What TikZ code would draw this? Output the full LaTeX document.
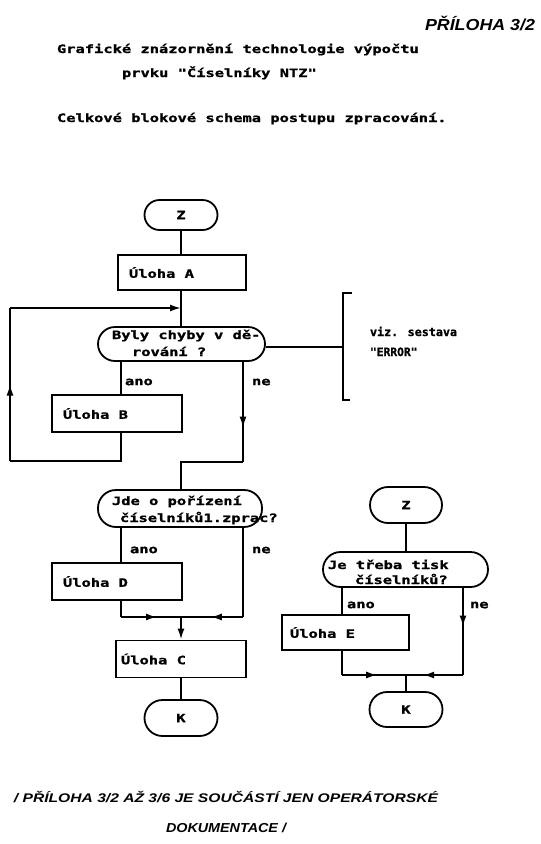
\documentclass[tikz,border=0pt]{standalone}
\usepackage{fontspec}
\usepackage{graphicx}
\usetikzlibrary{arrows.meta,decorations.markings}
\newfontfamily\dmfont{DejaVu Sans Mono}[BoldFont=* Bold, BoldFeatures={FakeBold=1.2}]
\newfontfamily\hwfont{Liberation Sans}[BoldFeatures={FakeBold=1.5}]
\newcommand{\dm}[1]{\scalebox{1.34}[1]{\fontsize{11.5}{13}\selectfont\dmfont\bfseries #1}}
\newcommand{\dms}[2]{\scalebox{#1}[1]{\fontsize{11.5}{13}\selectfont\dmfont\bfseries #2}}
\newcommand{\hw}[3]{\resizebox{#1}{\height}{\fontsize{#2}{#2}\selectfont\hwfont\bfseries\itshape #3}}
\tikzset{
  line/.style={line width=1.8pt, line join=miter},
  tipp/.style={-{Latex[length=11pt,width=7pt]}},
  term/.style={draw, line width=1.8pt, rounded corners=#1, inner sep=0pt},
  boxx/.style={draw, line width=1.8pt, inner sep=0pt},
  txt/.style={inner sep=0pt, outer sep=0pt},
  midarrow/.style={postaction={decorate}, decoration={markings,
     mark=at position #1 with {\arrow{Latex[length=11pt,width=7pt]}}}}
}
\begin{document}
\begin{tikzpicture}[x=1pt,y=-1pt]
\useasboundingbox[fill=white] (0,0) rectangle (541,844);

% header
\node[txt, anchor=base west] (hdr) at (425,30) {\hw{110pt}{16}{PŘÍLOHA 3/2}};
\node[txt, anchor=base west] (t1) at (57,53) {\dm{Grafické znázornění technologie výpočtu}};
\node[txt, anchor=base west] (t2) at (122,77) {\dm{prvku "Číselníky NTZ"}};
\node[txt, anchor=base west] (t3) at (57,122) {\dm{Celkové blokové schema postupu zpracování.}};

% left flowchart
\node[term=15pt, minimum width=73pt, minimum height=30pt] (z1) at (181,215) {\dm{Z}};
\node[boxx, minimum width=128pt, minimum height=35pt] (a) at (182,272.5) {};
\node[txt, anchor=west] (ta) at (129,272.5) {\dm{Úloha A}};
\node[term=17pt, minimum width=167pt, minimum height=34pt] (d1) at (181.5,344) {};
\node[txt, anchor=base west] (td1a) at (112,339) {\dm{Byly chyby v dě-}};
\node[txt, anchor=base west] (td1b) at (132,356) {\dm{rování ?}};
\node[boxx, minimum width=130pt, minimum height=37pt] (b) at (117,413.5) {};
\node[txt, anchor=west] (tb) at (63,413.5) {\dm{Úloha B}};
\node[term=18pt, minimum width=164pt, minimum height=37pt] (d2) at (180,508.5) {};
\node[txt, anchor=base west] (td2a) at (112,505) {\dm{Jde o pořízení}};
\node[txt, anchor=base west] (td2b) at (120,522) {\dm{číselníků1.zprac?}};
\node[boxx, minimum width=130pt, minimum height=37pt] (d) at (117,581.5) {};
\node[txt, anchor=west] (td) at (63,581.5) {\dm{Úloha D}};
\node[boxx, minimum width=130pt, minimum height=37pt] (c) at (181,659) {};
\node[txt, anchor=west] (tc) at (121,659) {\dm{Úloha C}};
\node[term=18pt, minimum width=73pt, minimum height=36pt] (k1) at (181,718) {\dm{K}};

% labels
\node[txt, anchor=west] (l1a) at (125,382) {\dm{ano}};
\node[txt, anchor=west] (l1n) at (252,382) {\dm{ne}};
\node[txt, anchor=west] (l2a) at (130,550) {\dm{ano}};
\node[txt, anchor=west] (l2n) at (252,550) {\dm{ne}};

% error bracket
\node[txt, anchor=base west] (e1) at (370,336) {\dms{1.02}{viz. sestava}};
\node[txt, anchor=base west] (e2) at (370,356) {\dms{0.98}{"ERROR"}};
\coordinate (br) at (343,347);
\draw[line] (352,293) -- (343,293) -- (343,400) -- (350,400);
\draw[line] (br -| d1.east) -- (br);

% connectors left
\draw[line] (z1.south) -- (z1.south |- a.north);
\draw[line] (181,290) -- (181,327);
\coordinate (l1) at (121,461);
\coordinate (l2) at (10,461);
\coordinate (l3) at (10,308);
\coordinate (lp) at (181,308);
\draw[line] ([xshift=4pt]d1.south -| b.north) -- ([xshift=4pt]b.north);
\draw[line] ([xshift=4pt]b.south) -- (l1) -- (l2);
\draw[line, midarrow=0.5] (l2) -- (l3);
\draw[line, tipp] (l3) -- (lp);
\coordinate (m1) at (243,462);
\coordinate (m2) at (181,462);
\draw[line, midarrow=0.66] (243,361) -- (m1);
\draw[line] (m1) -- (m2) -- (m2 |- d2.north);

\coordinate (j1) at (121,617);
\coordinate (j2) at (243,617);
\coordinate (jc) at (181,617);
\draw[line] ([xshift=4pt]d2.south -| d.north) -- ([xshift=4pt]d.north);
\draw[line] ([xshift=4pt]d.south) -- (j1);
\draw[line, midarrow=0.6] (j1) -- (jc);
\draw[line] (243,527) -- (j2);
\draw[line, midarrow=0.52] (j2) -- (jc);
\draw[line, tipp] (jc) -- (c.north);
\draw[line] (c.south) -- (k1.north);

% right flowchart
\node[term=18pt, minimum width=72pt, minimum height=36pt] (z2) at (406,505) {\dm{Z}};
\node[term=17.5pt, minimum width=165pt, minimum height=35pt] (d3) at (405.5,569.5) {};
\node[txt, anchor=base west] (td3a) at (328,569) {\dm{Je třeba tisk}};
\node[txt, anchor=base west] (td3b) at (355,584) {\dm{číselníků?}};
\node[boxx, minimum width=127pt, minimum height=35pt] (e) at (345.5,632.5) {};
\node[txt, anchor=west] (te) at (290,632.5) {\dm{Úloha E}};
\node[term=17.5pt, minimum width=73pt, minimum height=35pt] (k2) at (406,709.5) {\dm{K}};
\node[txt, anchor=west] (l3a) at (347,605) {\dm{ano}};
\node[txt, anchor=west] (l3n) at (470,605) {\dm{ne}};

\draw[line] (z2.south) -- (z2.south |- d3.north);
\draw[line] (342,587) -- (342,615);
\coordinate (r1) at (342,675);
\coordinate (r2) at (463,675);
\coordinate (rc) at (406,675);
\draw[line] (342,650) -- (r1);
\draw[line, midarrow=0.55] (r1) -- (rc);
\draw[line, midarrow=0.45] (463,587) -- (r2);
\draw[line, midarrow=0.7] (r2) -- (rc);
\draw[line] (rc) -- (rc |- k2.north);

% footer
\node[txt, anchor=base west] (f1) at (14,802) {\hw{424pt}{12.5}{/ PŘÍLOHA 3/2 AŽ 3/6 JE SOUČÁSTÍ JEN OPERÁTORSKÉ}};
\node[txt, anchor=base west] (f2) at (166,832) {\hw{120pt}{13}{DOKUMENTACE /}};
\end{tikzpicture}
\end{document}
